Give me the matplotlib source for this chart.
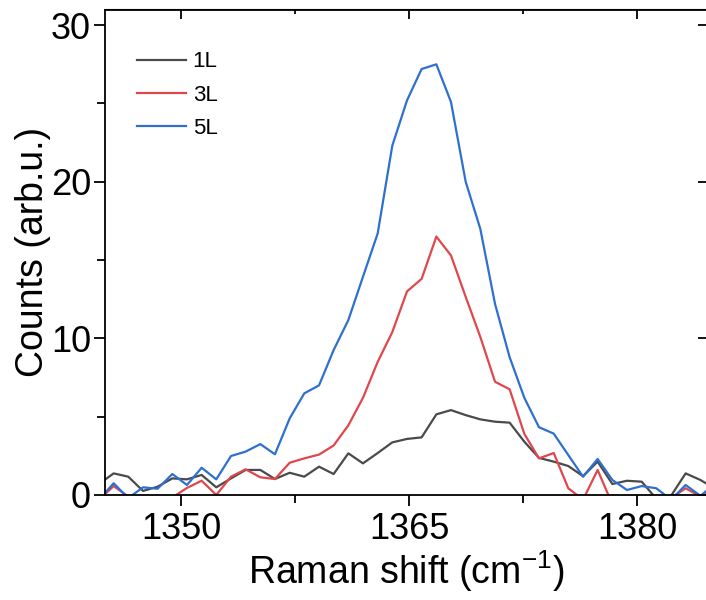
import matplotlib
matplotlib.use("Agg")
import matplotlib.pyplot as plt
from matplotlib.ticker import MultipleLocator

plt.rcParams["font.family"] = ["Liberation Sans", "DejaVu Sans"]
plt.rcParams["mathtext.fontset"] = "custom"
plt.rcParams["mathtext.rm"] = "Liberation Sans"

# Raman shift (cm^-1), one point per detector pixel
shift = [1344.60, 1345.57, 1346.53, 1347.50, 1348.46, 1349.43, 1350.39, 1351.36,
         1352.32, 1353.29, 1354.25, 1355.22, 1356.18, 1357.15, 1358.11, 1359.08,
         1360.04, 1361.01, 1361.97, 1362.94, 1363.90, 1364.87, 1365.83, 1366.80,
         1367.76, 1368.73, 1369.69, 1370.66, 1371.62, 1372.59, 1373.55, 1374.52,
         1375.48, 1376.45, 1377.41, 1378.38, 1379.34, 1380.31, 1381.27, 1382.24,
         1383.20, 1384.17, 1385.13]

counts_1L = [0.70, 1.38, 1.17, 0.26, 0.53, 1.06, 1.00, 1.28, 0.49, 1.06, 1.60,
             1.60, 1.02, 1.42, 1.17, 1.81, 1.34, 2.66, 2.02, 2.68, 3.36, 3.58,
             3.68, 5.15, 5.42, 5.10, 4.83, 4.68, 4.62, 3.40, 2.37, 2.13, 1.85,
             1.20, 2.13, 0.70, 0.91, 0.85, -0.24, -0.05, 1.38, 0.96, 0.40]

counts_3L = [-0.30, 0.57, -0.10, -0.80, -0.60, -0.16, 0.45, 0.91, 0.00, 1.17,
             1.64, 1.13, 1.02, 2.06, 2.34, 2.58, 3.16, 4.45, 6.20, 8.50, 10.40,
             13.00, 13.80, 16.50, 15.30, 12.65, 10.10, 7.23, 6.75, 3.90, 2.34,
             2.68, 0.43, -0.30, 1.60, -0.60, -1.00, -0.80, -0.60, -0.20, 0.43,
             -0.10, 0.30]

counts_5L = [-0.30, 0.75, -0.20, 0.49, 0.40, 1.34, 0.64, 1.74, 1.00, 2.49, 2.77,
             3.25, 2.60, 4.89, 6.49, 7.00, 9.25, 11.17, 13.93, 16.70, 22.30,
             25.20, 27.20, 27.50, 25.10, 20.00, 17.00, 12.20, 8.80, 6.20, 4.33,
             3.92, 2.55, 1.17, 2.30, 0.96, 0.32, 0.57, 0.43, -0.30, 0.64, -0.05,
             0.70]

labels = ["1L", "3L", "5L"]
colors = ["#4a4a4a", "#e0474c", "#2e6fd0"]

fig = plt.figure(figsize=(7.06, 6.0), dpi=100)
ax = fig.add_axes([105 / 706, 105 / 600, 603 / 706, 485.5 / 600])

for y, lab, c in zip([counts_1L, counts_3L, counts_5L], labels, colors):
    ax.plot(shift, y, color=c, lw=1.6, label=lab)

ax.set_xlim(1345, 1345 + 603 / 15.2)
ax.set_ylim(0, 31)

ax.xaxis.set_major_locator(MultipleLocator(15))
ax.xaxis.set_minor_locator(MultipleLocator(7.5))
ax.yaxis.set_major_locator(MultipleLocator(10))
ax.yaxis.set_minor_locator(MultipleLocator(5))
ax.tick_params(which="both", direction="out", width=1.3, labelsize=26)
ax.tick_params(axis="x", pad=4)
ax.tick_params(axis="y", pad=2)
ax.tick_params(which="major", length=8)
ax.tick_params(which="minor", length=6)
for s in ax.spines.values():
    s.set_linewidth(1.3)

# inward ticks on the top and right edges
top = ax.secondary_xaxis("top")
top.xaxis.set_major_locator(MultipleLocator(15))
top.xaxis.set_minor_locator(MultipleLocator(7.5))
top.tick_params(which="both", direction="in", width=1.3, labeltop=False)
top.tick_params(which="major", length=7)
top.tick_params(which="minor", length=3.5)
right = ax.secondary_yaxis("right")
right.yaxis.set_major_locator(MultipleLocator(10))
right.tick_params(direction="in", length=7, width=1.3, labelright=False)

ax.set_xlabel("Raman shift (cm$^{\\mathregular{-1}}$)", fontsize=27, labelpad=1)
ax.set_ylabel("Counts (arb.u.)", fontsize=27, labelpad=0)

ax.legend(loc="upper left", bbox_to_anchor=(0.02, 0.955), frameon=False,
          fontsize=16, handlelength=2.2, labelspacing=0.55, handletextpad=0.3)

fig.savefig("out.png", dpi=100)
